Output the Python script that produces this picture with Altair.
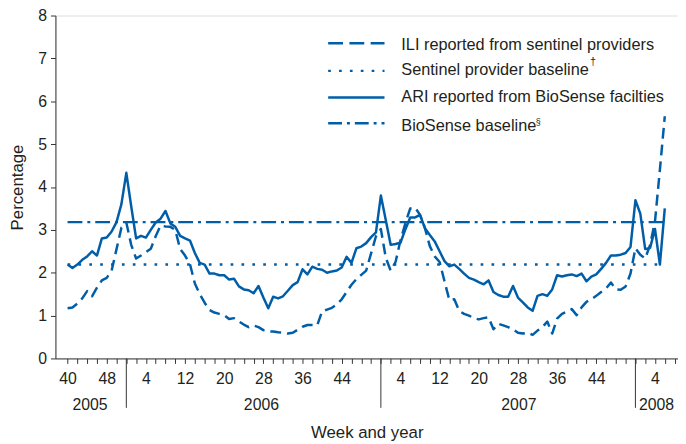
import altair as alt
import pandas as pd

BLUE = "#005EA8"
TEXT = "#231F20"
AXIS = "#333333"
FONT = "Liberation Sans"

# ---- data (index 0 = week 40 of 2005, one step per week) ----
ili = [
    1.17, 1.19, 1.28, 1.40, 1.57, 1.45, 1.65, 1.82, 1.88, 2.05,
    2.55, 3.05, 3.17, 2.65, 2.33, 2.40, 2.48, 2.56, 2.85, 3.10,
    3.08, 3.07, 3.00, 2.55, 2.40, 2.20, 1.75, 1.50, 1.30, 1.13,
    1.07, 1.04, 1.01, 0.92, 0.94, 0.86, 0.79, 0.73, 0.77, 0.73,
    0.66, 0.63, 0.63, 0.61, 0.60, 0.58, 0.60, 0.67, 0.74, 0.78,
    0.78, 0.77, 1.10, 1.14, 1.18, 1.26, 1.38, 1.55, 1.72, 1.85,
    1.95, 2.05, 2.45, 2.85, 3.02, 2.35, 2.05, 2.25, 2.75, 3.15,
    3.50, 3.52, 3.35, 3.04, 2.62, 2.38, 2.25, 1.80, 1.36, 1.38,
    1.11, 1.04, 1.00, 0.94, 0.91, 0.94, 0.96, 0.68, 0.81, 0.77,
    0.73, 0.68, 0.60, 0.58, 0.60, 0.55, 0.65, 0.73, 0.86, 0.58,
    0.93, 1.04, 1.09, 1.15, 1.01, 1.19, 1.32, 1.38, 1.46, 1.55,
    1.63, 1.77, 1.61, 1.60, 1.68, 1.98, 2.57, 2.42, 2.33, 2.65,
    3.20, 4.40, 5.65,
]
ari = [
    2.19, 2.11, 2.19, 2.30, 2.38, 2.50, 2.40, 2.80, 2.82, 2.96,
    3.18, 3.60, 4.33, 3.55, 2.80, 2.86, 2.82, 3.00, 3.17, 3.26,
    3.44, 3.15, 3.07, 2.86, 2.80, 2.75, 2.46, 2.23, 2.19, 1.98,
    1.98, 1.94, 1.94, 1.84, 1.86, 1.68, 1.61, 1.59, 1.52, 1.69,
    1.42, 1.17, 1.44, 1.40, 1.45, 1.58, 1.71, 1.78, 2.08, 1.96,
    2.14, 2.09, 2.07, 2.00, 2.03, 2.05, 2.12, 2.37, 2.23, 2.57,
    2.61, 2.69, 2.83, 2.94, 3.80, 3.23, 2.65, 2.67, 2.70, 3.01,
    3.29, 3.29, 3.35, 3.04, 2.88, 2.73, 2.50, 2.27, 2.15, 2.19,
    2.09, 1.98, 1.88, 1.84, 1.78, 1.73, 1.82, 1.55, 1.48, 1.44,
    1.44, 1.69, 1.42, 1.31, 1.19, 1.11, 1.46, 1.50, 1.46, 1.61,
    1.94, 1.91, 1.94, 1.96, 1.92, 1.98, 1.80, 1.91, 1.96, 2.09,
    2.23, 2.40, 2.40, 2.42, 2.46, 2.60, 3.69, 3.38, 2.55, 2.58,
    3.02, 2.19, 3.50,
]
sentinel_baseline = 2.19
biosense_baseline = 3.18
baseline_span = [0, 122]

tick_idx = list(range(0, 125, 2))
week_label_idx = [0, 8, 16, 24, 32, 40, 48, 56, 68, 76, 84, 92, 100, 108, 120]
week_label_txt = ["40", "48", "4", "12", "20", "28", "36", "44",
                  "4", "12", "20", "28", "36", "44", "4"]
year_label_idx = [4.6, 39.6, 92.2, 120.3]
year_label_txt = ["2005", "2006", "2007", "2008"]
year_break_idx = [12, 64, 116]

legend_labels = [
    "ILI reported from sentinel providers",
    "Sentinel provider baseline",
    "ARI reported from BioSense facilties",
    "BioSense baseline",
]
legend_marks = ["\u2020", "", "", "\u00a7"]

# ---- layout ----
W, H = 630, 347

idx_arr = "[" + ",".join(str(v) for v in week_label_idx) + "]"
txt_arr = "[" + ",".join("'" + t + "'" for t in week_label_txt) + "]"
label_expr = (f"indexof({idx_arr}, datum.value) >= 0 ? "
              f"{txt_arr}[indexof({idx_arr}, datum.value)] : ''")

x_scale = alt.Scale(domain=[-2.48, 124.7], nice=False, zero=False)
y_scale = alt.Scale(domain=[0, 8], nice=False, zero=True)

x_axis = alt.Axis(
    values=tick_idx, labelExpr=label_expr, tickSize=5, labelPadding=7,
    labelFontSize=16, labelFont=FONT, labelColor=TEXT, labelOverlap=False,
    labelFlush=False, labelBound=False, domainColor=AXIS, tickColor=AXIS,
    grid=False, titleFontSize=17, titleFont=FONT, titleFontWeight="normal",
    titleColor=TEXT, titlePadding=39,
)
y_axis = alt.Axis(
    values=list(range(9)), tickSize=5, labelPadding=4, labelFontSize=16,
    labelFont=FONT, labelColor=TEXT, domainColor=AXIS, tickColor=AXIS,
    grid=False, titleFontSize=17, titleFont=FONT, titleFontWeight="normal",
    titleColor=TEXT, titlePadding=11,
)


def X(field):
    return alt.X(field, type="quantitative", scale=x_scale, axis=x_axis,
                 title="Week and year")


def Y(field):
    return alt.Y(field, type="quantitative", scale=y_scale, axis=y_axis,
                 title="Percentage")


df = pd.DataFrame({"idx": list(range(len(ili))), "ili": ili, "ari": ari})
base_df = pd.DataFrame({
    "start": [baseline_span[0]] * 2,
    "end": [baseline_span[1]] * 2,
    "value": [sentinel_baseline, biosense_baseline],
    "name": ["sentinel", "biosense"],
})

DASH_ILI = [11, 6]
DOT = [2.7, 8.3]
DASHDOT = [15, 5, 3, 5]

sentinel_rule = alt.Chart(base_df[base_df.name == "sentinel"]).mark_rule(
    color=BLUE, strokeWidth=2.5, strokeDash=DOT).encode(
    x=X("start"), x2="end", y=Y("value"))
biosense_rule = alt.Chart(base_df[base_df.name == "biosense"]).mark_rule(
    color=BLUE, strokeWidth=2.5, strokeDash=DASHDOT).encode(
    x=X("start"), x2="end", y=Y("value"))

ili_line = alt.Chart(df).mark_line(
    color=BLUE, strokeWidth=2.5, strokeDash=DASH_ILI, strokeJoin="round").encode(
    x=X("idx"), y=Y("ili"))
ari_line = alt.Chart(df).mark_line(
    color=BLUE, strokeWidth=2.5, strokeJoin="round").encode(
    x=X("idx"), y=Y("ari"))

breaks = alt.Chart(pd.DataFrame({"idx": year_break_idx})).mark_rule(
    color=AXIS, strokeWidth=1).encode(
    x=X("idx"), y=alt.value(H), y2=alt.value(H + 50))

years = alt.Chart(pd.DataFrame({"idx": year_label_idx, "label": year_label_txt})).mark_text(
    font=FONT, fontSize=16, color=TEXT, baseline="middle", align="center").encode(
    x=X("idx"), y=alt.value(H + 47), text="label:N")

# ---- manual legend ----
one = pd.DataFrame({"k": [0]})
LEG_FS = 16.5
sym_y = [28, 56, 83, 109]
txt_y = [29.5, 55.5, 82.8, 112]
sym_dash = [[15, 6.5], [2.7, 8.3], None, [14, 5, 3, 5]]
sup_x = [541, 0, 0, 486]
sup_y = [47, 0, 0, 108]
sup_size = [11, 0, 0, 9]

legend_layers = []
for i, lab in enumerate(legend_labels):
    kw = dict(color=BLUE, strokeWidth=2.5)
    if sym_dash[i] is not None:
        kw["strokeDash"] = sym_dash[i]
    legend_layers.append(
        alt.Chart(one).mark_rule(**kw).encode(
            x=alt.value(276), x2=alt.value(333), y=alt.value(sym_y[i])))
    legend_layers.append(
        alt.Chart(one).mark_text(text=lab, font=FONT, fontSize=LEG_FS, color=TEXT,
                                 align="left", baseline="middle").encode(
            x=alt.value(350), y=alt.value(txt_y[i])))
    if legend_marks[i]:
        legend_layers.append(
            alt.Chart(one).mark_text(text=legend_marks[i], font=FONT,
                                     fontSize=sup_size[i], color=TEXT,
                                     align="left", baseline="middle").encode(
                x=alt.value(sup_x[i]), y=alt.value(sup_y[i])))

chart = alt.layer(
    sentinel_rule, biosense_rule, ili_line, ari_line, breaks, years,
    *legend_layers,
).properties(
    width=W, height=H,
    padding={"left": 48, "top": 5, "right": 0, "bottom": 86},
    autosize=alt.AutoSizeParams(type="none"),
).configure_view(stroke="#444444", strokeWidth=1).configure(
    font=FONT, background="white")

chart.save("out.html", embed_options={"renderer": "svg", "actions": False})
